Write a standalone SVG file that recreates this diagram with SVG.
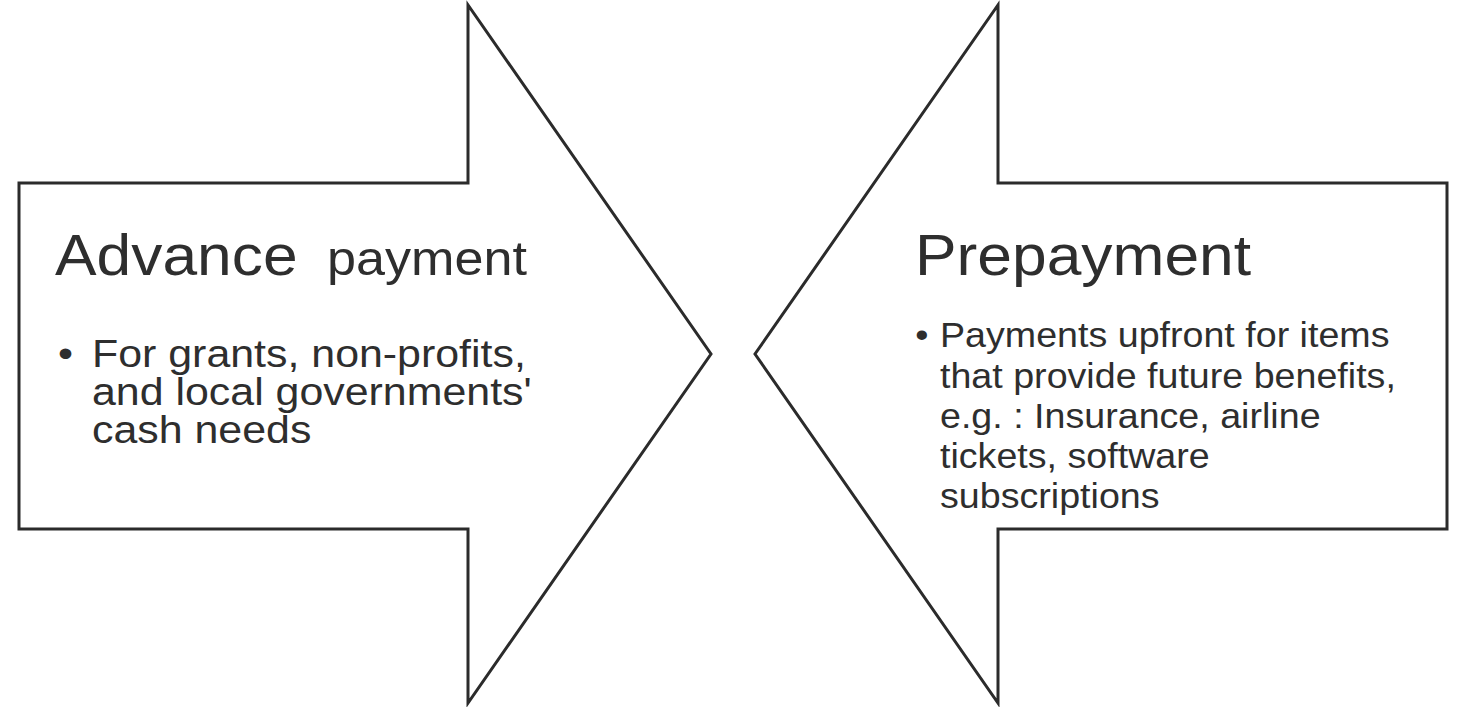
<svg xmlns="http://www.w3.org/2000/svg" width="1461" height="707" viewBox="0 0 1461 707">
<style>
.shape{fill:#ffffff;stroke:#2b2b2b;stroke-width:3;stroke-linejoin:miter}
.t{font-family:"Liberation Sans",Arial,sans-serif;fill:#2e2e2e}
</style>
<rect width="1461" height="707" fill="#ffffff"/>
<g id="advance">
<polygon class="shape" points="19,183 468,183 468,5 711,354 468,703 468,529 19,529"/>
<g transform="translate(55,0) scale(1.075,1)">
<text class="t" x="0" y="275" font-size="58">Advance</text>
<text class="t" x="253" y="275" font-size="48.5">payment</text>
</g>
<g transform="translate(92,0) scale(1.1,1)">
<text class="t" font-size="39">
<tspan x="-31" y="367">•</tspan>
<tspan x="0" y="367">For grants, non-profits,</tspan>
<tspan x="0" y="405">and local governments'</tspan>
<tspan x="0" y="443">cash needs</tspan>
</text>
</g>
</g>
<g id="prepayment">
<polygon class="shape" points="1447,183 998,183 998,5 755,354 998,703 998,529 1447,529"/>
<g transform="translate(915,0) scale(1.075,1)">
<text class="t" x="0" y="275" font-size="58">Prepayment</text>
</g>
<g transform="translate(940,0) scale(1.075,1)">
<text class="t" font-size="35">
<tspan x="-23" y="347">•</tspan>
<tspan x="0" y="347">Payments upfront for items</tspan>
<tspan x="0" y="388">that provide future benefits,</tspan>
<tspan x="0" y="428">e.g. : Insurance, airline</tspan>
<tspan x="0" y="468">tickets, software</tspan>
<tspan x="0" y="508">subscriptions</tspan>
</text>
</g>
</g>
<g id="connectors"></g>
</svg>
